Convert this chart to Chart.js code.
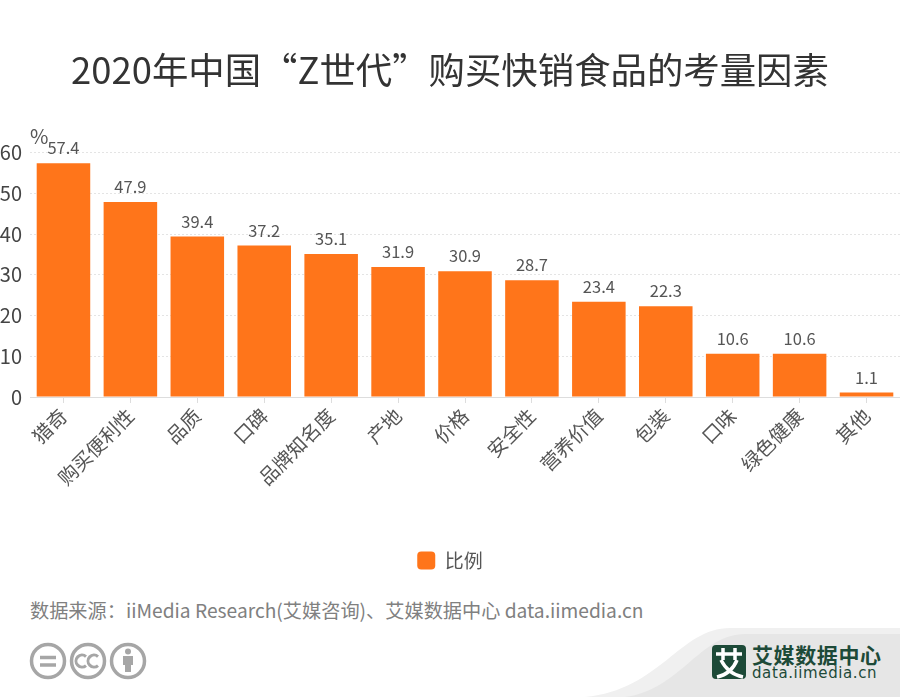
<!DOCTYPE html>
<html lang="zh-CN">
<head>
    <meta charset="UTF-8">
    <title>2020年中国“Z世代”购买快销食品的考量因素</title>
    <script src="https://cdn.jsdelivr.net/npm/chart.js"></script>
    <style>
        body { margin: 0; background: #fff; font-family: "Noto Sans CJK SC", sans-serif; }
        #page { position: relative; width: 900px; height: 697px; overflow: hidden; }
        #chart { position: absolute; left: 0; top: 0; }
        #source { position: absolute; left: 30px; top: 597px; font-size: 19.2px; line-height: 26px; color: #808080; white-space: nowrap; }
        #deco { position: absolute; left: 0; top: 0; }
        #logoName { position: absolute; left: 752px; top: 640px; font-size: 21px; line-height: 28px; font-weight: 700; color: #1d4a38; letter-spacing: 0.6px; white-space: nowrap; }
        #logoUrl { position: absolute; left: 752px; top: 662px; font-family: "DejaVu Sans", sans-serif; font-size: 15px; line-height: 22px; color: #1d4a38; letter-spacing: 0.6px; white-space: nowrap; }
    </style>
</head>
<body>
<div id="page">
    <svg id="deco" width="900" height="697">
        <path d="M585 697 C660 690 680 628 730 628 L900 628 L900 697 Z" fill="#f0f0f0"/>
        <path d="M625 697 C680 690 700 634 745 634 L900 634 L900 697 Z" fill="#e6e6e6"/>
        <rect x="712" y="645" width="34" height="34" rx="4" fill="#1d4a38"/>
        <g fill="none" stroke="#fff" stroke-width="3.5">
            <path d="M716 654 H742 M723 648 V660 M735 648 V660 M737 660 C733 670 726 675 717 677 M721 660 C726 670 733 675 743 677"/>
        </g>
        <g fill="none" stroke="#a6a6a6" stroke-width="3.5">
            <circle cx="48" cy="661" r="16.5"/>
            <circle cx="88" cy="661" r="16.5"/>
            <circle cx="128" cy="661" r="16.5"/>
            <path d="M40 657.5 H56 M40 665 H56"/>
            <path d="M86 656.5 A6 6 0 1 0 86 665.5 M98 656.5 A6 6 0 1 0 98 665.5" stroke-width="3"/>
        </g>
        <circle cx="128" cy="651.5" r="3" fill="#a6a6a6"/>
        <path d="M123 656 H133 V665 H131 V672 H125 V665 H123 Z" fill="#a6a6a6"/>
    </svg>
    <canvas id="chart" width="900" height="588"></canvas>
    <div id="source">数据来源：iiMedia Research(艾媒咨询)、艾媒数据中心 data.iimedia.cn</div>
    <div id="logoName">艾媒数据中心</div>
    <div id="logoUrl">data.iimedia.cn</div>
</div>

<script>
    const categories = ["猎奇", "购买便利性", "品质", "口碑", "品牌知名度", "产地", "价格", "安全性", "营养价值", "包装", "口味", "绿色健康", "其他"];
    const shares = [57.4, 47.9, 39.4, 37.2, 35.1, 31.9, 30.9, 28.7, 23.4, 22.3, 10.6, 10.6, 1.1];
    const yTicks = [0, 10, 20, 30, 40, 50, 60];
    const seriesName = "比例";
    const unitLabel = "%";
    const titleText = "2020年中国“Z世代”购买快销食品的考量因素";

    const FONT = '"Noto Sans CJK SC", sans-serif';
    const ORANGE = "#ff751a";

    // value labels above the bars and the % above the y axis
    const barLabels = {
        id: "barLabels",
        afterDatasetsDraw(chart) {
            const ctx = chart.ctx;
            const bars = chart.getDatasetMeta(0).data;
            ctx.save();
            ctx.font = "16.5px " + FONT;
            ctx.fillStyle = "#555";
            ctx.textAlign = "center";
            ctx.textBaseline = "bottom";
            bars.forEach((bar, i) => {
                ctx.fillText(shares[i].toFixed(1), bar.x, bar.y - 7);
            });
            ctx.font = "20px " + FONT;
            ctx.textAlign = "left";
            ctx.fillText(unitLabel, chart.chartArea.left, chart.chartArea.top - 6);
            ctx.restore();
        }
    };

    new Chart(document.getElementById("chart"), {
        type: "bar",
        data: {
            labels: categories,
            datasets: [{
                label: seriesName,
                data: shares,
                backgroundColor: ORANGE,
                borderWidth: 0,
                categoryPercentage: 0.8,
                barPercentage: 1
            }]
        },
        options: {
            responsive: false,
            animation: false,
            layout: { padding: { left: 0, right: 0, top: 0, bottom: 8 } },
            plugins: {
                title: {
                    display: true,
                    text: titleText,
                    color: "#333",
                    font: { family: FONT, size: 36.4, weight: "normal" },
                    padding: { top: 48, bottom: 61 }
                },
                legend: {
                    position: "bottom",
                    labels: {
                        boxWidth: 18,
                        boxHeight: 18,
                        useBorderRadius: true,
                        borderRadius: 4,
                        padding: 6,
                        color: "#555",
                        font: { family: FONT, size: 19 }
                    }
                },
                tooltip: { enabled: false }
            },
            scales: {
                x: {
                    offset: true,
                    afterFit(scale) { scale.height = 148; },
                    border: { color: "#ddd" },
                    grid: { drawOnChartArea: false, offset: false, tickColor: "#ddd", tickLength: 6 },
                    ticks: {
                        color: "#555",
                        font: { family: FONT, size: 19.5 },
                        minRotation: 45,
                        maxRotation: 45,
                        autoSkip: false,
                        padding: 1
                    }
                },
                y: {
                    min: 0,
                    max: 60,
                    afterFit(scale) { scale.width = 30; },
                    afterBuildTicks(scale) { scale.ticks = yTicks.map(v => ({ value: v })); },
                    border: { display: false, dash: [2, 2] },
                    grid: {
                        color: "#e4e4e4",
                        drawTicks: false,
                        lineWidth: 1
                    },
                    ticks: {
                        color: "#444",
                        font: { family: FONT, size: 20 },
                        padding: 8
                    }
                }
            }
        },
        plugins: [barLabels]
    });
</script>
</body>
</html>
